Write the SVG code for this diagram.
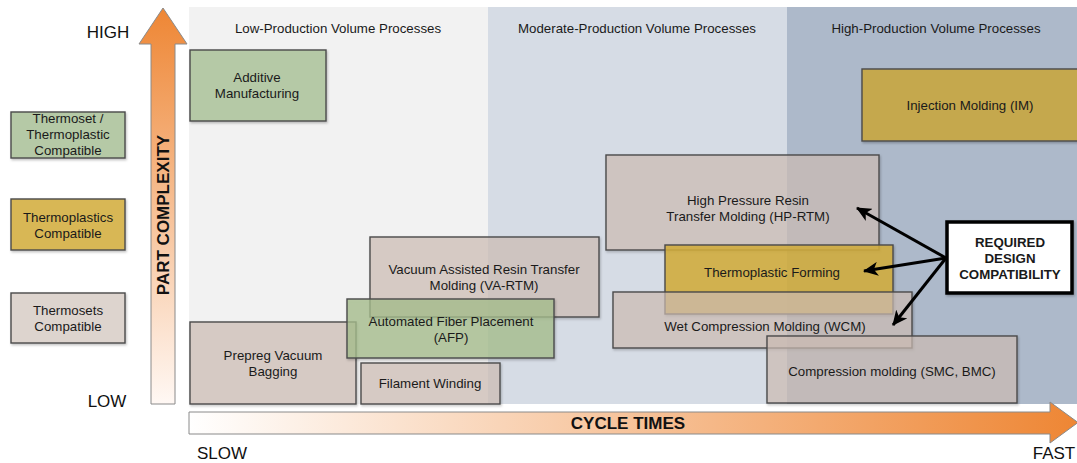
<svg xmlns="http://www.w3.org/2000/svg" width="1077" height="463" viewBox="0 0 1077 463">
<defs>
<linearGradient id="gv" x1="0" y1="0" x2="0" y2="1">
<stop offset="0" stop-color="#ee8634"/>
<stop offset="1" stop-color="#fff8f4"/>
</linearGradient>
<linearGradient id="gh" x1="0" y1="0" x2="1" y2="0">
<stop offset="0" stop-color="#ffffff"/>
<stop offset="1" stop-color="#ee8634"/>
</linearGradient>
<marker id="ah" markerUnits="userSpaceOnUse" markerWidth="16" markerHeight="14" refX="14" refY="7" orient="auto">
<path d="M0,0 L15,7 L0,14 L4,7 Z" fill="#000"/>
</marker>
<filter id="sh" x="-10%" y="-10%" width="120%" height="130%">
<feDropShadow dx="1" dy="1.5" stdDeviation="1.2" flood-color="#000" flood-opacity="0.25"/>
</filter>
</defs>
<style>
text{font-family:"Liberation Sans",Arial,sans-serif;fill:#1a1a1a;text-anchor:middle}
.t{font-size:13.3px}
.ax{font-size:17px;fill:#111}
.bold{font-weight:bold}
.box{stroke:#4a4a4a;stroke-width:1.4}
.ts{fill:#d2c2b9;fill-opacity:0.65}
.gr{fill:#a8c08f;fill-opacity:0.75}
.yl{fill:#d4ae3c;fill-opacity:0.85}
</style>
<g id="regions">
<rect x="189" y="7" width="299" height="397" fill="#f2f2f2"/>
<rect x="488" y="7" width="299" height="397" fill="#d6dce5"/>
<rect x="787" y="7" width="290" height="397" fill="#adb9ca"/>
<text class="t" x="338" y="33">Low-Production Volume Processes</text>
<text class="t" x="637" y="33">Moderate-Production Volume Processes</text>
<text class="t" x="936" y="33">High-Production Volume Processes</text>
</g>
<g id="axes">
<path d="M151,404 L151,44 L139,44 L163,8 L187,44 L175,44 L175,404 Z" fill="url(#gv)" stroke="#8a8a8a" stroke-width="1"/>
<text class="ax bold" transform="translate(169,215) rotate(-90)">PART COMPLEXITY</text>
<path d="M189,412 L1050,412 L1050,402 L1078,422.5 L1050,443 L1050,434 L189,434 Z" fill="url(#gh)" stroke="#8a8a8a" stroke-width="1"/>
<text class="ax bold" x="628" y="429">CYCLE TIMES</text>
<text class="ax" x="108" y="38">HIGH</text>
<text class="ax" x="107" y="407">LOW</text>
<text class="ax" x="222" y="459">SLOW</text>
<text class="ax" x="1054" y="459">FAST</text>
</g>
<g id="legend-thermoset-thermoplastic">
<rect x="11" y="112" width="114" height="46" fill="#b5c9a6" class="box" filter="url(#sh)"/>
<text class="t" x="68" y="123">Thermoset /</text>
<text class="t" x="68" y="139">Thermoplastic</text>
<text class="t" x="68" y="155">Compatible</text>
</g>
<g id="legend-thermoplastics">
<rect x="11" y="199" width="114" height="51" fill="#d8b754" class="box" filter="url(#sh)"/>
<text class="t" x="68" y="222">Thermoplastics</text>
<text class="t" x="68" y="238">Compatible</text>
</g>
<g id="legend-thermosets">
<rect x="11" y="293" width="114" height="50" fill="#ddd4ce" class="box" filter="url(#sh)"/>
<text class="t" x="68" y="315">Thermosets</text>
<text class="t" x="68" y="331">Compatible</text>
</g>
<g id="additive-manufacturing">
<rect x="190" y="50" width="136" height="71" fill="#b5c9a6" class="box" filter="url(#sh)"/>
<text class="t" x="257" y="82">Additive</text>
<text class="t" x="257" y="98">Manufacturing</text>
</g>
<g id="injection-molding">
<rect x="862" y="69" width="220" height="72" fill="#c5a84e" class="box" filter="url(#sh)"/>
<text class="t" x="970" y="110">Injection Molding (IM)</text>
</g>
<g id="prepreg-vacuum-bagging">
<rect x="190" y="322" width="166" height="82" class="box ts" filter="url(#sh)"/>
<text class="t" x="273" y="360">Prepreg Vacuum</text>
<text class="t" x="273" y="376">Bagging</text>
</g>
<g id="va-rtm">
<rect x="370" y="237" width="229" height="80" class="box ts" filter="url(#sh)"/>
<text class="t" x="484" y="274">Vacuum Assisted Resin Transfer</text>
<text class="t" x="484" y="290">Molding (VA-RTM)</text>
</g>
<g id="afp">
<rect x="347" y="299" width="207" height="59" class="box gr" filter="url(#sh)"/>
<text class="t" x="451" y="326">Automated Fiber Placement</text>
<text class="t" x="451" y="342">(AFP)</text>
</g>
<g id="filament-winding">
<rect x="361" y="363" width="139" height="41" class="box ts" filter="url(#sh)"/>
<text class="t" x="430" y="388">Filament Winding</text>
</g>
<g id="hp-rtm">
<rect x="606" y="155" width="273" height="95" class="box ts" filter="url(#sh)"/>
<text class="t" x="748" y="205">High Pressure Resin</text>
<text class="t" x="748" y="221">Transfer Molding (HP-RTM)</text>
</g>
<g id="thermoplastic-forming">
<rect x="665" y="245" width="228" height="69" class="box yl" filter="url(#sh)"/>
<text class="t" x="772" y="277">Thermoplastic Forming</text>
</g>
<g id="wcm">
<rect x="613" y="292" width="299" height="56" class="box ts" filter="url(#sh)"/>
<text class="t" x="765" y="331">Wet Compression Molding (WCM)</text>
</g>
<g id="compression-molding">
<rect x="767" y="336" width="250" height="67" class="box ts" filter="url(#sh)"/>
<text class="t" x="892" y="376">Compression molding (SMC, BMC)</text>
</g>
<g id="connectors" stroke="#000" stroke-width="3" fill="none">
<line x1="946" y1="258" x2="857" y2="208" marker-end="url(#ah)"/>
<line x1="946" y1="258" x2="864" y2="271" marker-end="url(#ah)"/>
<line x1="946" y1="258" x2="893" y2="325" marker-end="url(#ah)"/>
</g>
<g id="required-design-compatibility">
<rect x="947" y="222" width="125" height="71" fill="#ffffff" stroke="#000" stroke-width="3.5" filter="url(#sh)"/>
<text class="t bold" x="1010" y="247">REQUIRED</text>
<text class="t bold" x="1010" y="263">DESIGN</text>
<text class="t bold" x="1010" y="279">COMPATIBILITY</text>
</g>
</svg>
